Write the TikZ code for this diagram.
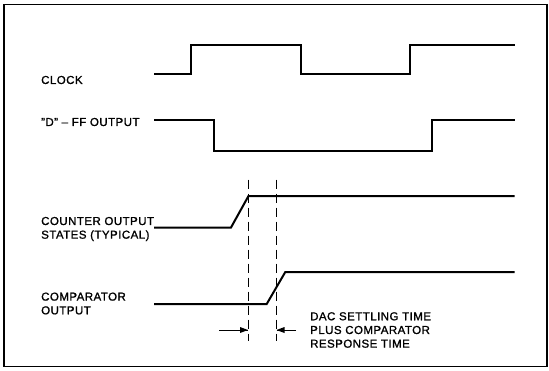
\documentclass[tikz,border=0pt]{standalone}
\usepackage{fontspec}
\setmainfont{Liberation Sans}[LetterSpace=4,FakeBold=1.2]
\begin{document}
\begin{tikzpicture}[x=1pt,y=-1pt]
    \tikzstyle{every node}+=[inner sep=0pt,font=\fontsize{11.5}{13.7}\selectfont]
    \tikzstyle{wave}=[black,line width=2pt,line join=miter]
    \tikzstyle{guide}=[black,line width=0.7pt,dash pattern=on 9pt off 5pt]
    \useasboundingbox (0,0) rectangle (549,370);
    \draw [black,line width=1.2pt] (4,4.5) rectangle (547,366.5);
    % signal names
    \node (clk) [anchor=west] at (41,80) {CLOCK};
    \node (dff) [anchor=west] at (41,122) {''D'' -- FF OUTPUT};
    \node (cnt) [anchor=west,align=left] at (41,229) {COUNTER OUTPUT\\STATES (TYPICAL)};
    \node (cmp) [anchor=west,align=left] at (41,303.5) {COMPARATOR\\OUTPUT};
    \node (dac) [anchor=west,align=left] at (310,330) {DAC SETTLING TIME\\PLUS COMPARATOR\\RESPONSE TIME};
    % waveforms
    \draw [wave] (154,74) -- (191,74) -- (191,44.5) -- (301,44.5) -- (301,74) -- (409.5,74) -- (409.5,44.5) -- (514.5,44.5);
    \draw [wave] (154,120) -- (213.5,120) -- (213.5,150.5) -- (431.5,150.5) -- (431.5,120) -- (514.5,120);
    \draw [wave] (154,227.5) -- (231,227.5) -- (248.5,196) -- (514.5,196);
    \draw [wave] (154,304) -- (266.7,304) -- (285.3,272) -- (514.5,272);
    % timing marks
    \coordinate (t1top) at (248.5,179.5);
    \coordinate (t1bot) at (248.5,341);
    \coordinate (t2top) at (276,179.5);
    \coordinate (t2bot) at (276,341);
    \coordinate (t1tip) at (248,330);
    \coordinate (t2tip) at (276.5,330);
    \draw [guide] (t1top) -- (t1bot);
    \draw [guide] (t2top) -- (t2bot);
    \draw [black,line width=0.8pt] (219,330) -- (t1tip);
    \fill [black] (t1tip) -- ++(-8,-3) -- ++(0,6);
    \draw [black,line width=0.8pt] (296,330) -- (t2tip);
    \fill [black] (t2tip) -- ++(8,-3) -- ++(0,6);
\end{tikzpicture}
\end{document}
